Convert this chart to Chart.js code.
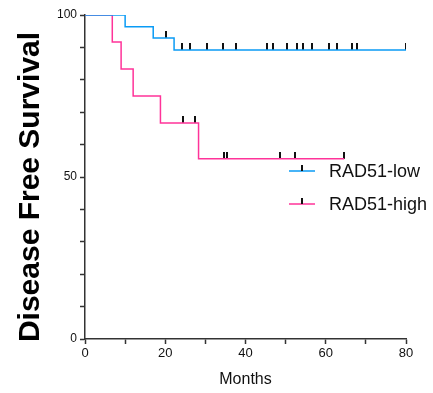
<!DOCTYPE html>
<html>
<head>
<meta charset="utf-8">
<script src="https://cdn.jsdelivr.net/npm/chart.js@4"></script>
<style>
  body { margin: 0; background: #fff; }
</style>
</head>
<body>
<canvas id="km" width="433" height="393"></canvas>
<script>
"use strict";

// survival steps (months, percent)
const lowTimes = [0, 10, 17, 22.2, 80];
const lowSurv = [100, 96.4, 92.9, 89.2, 89.2];
const lowCensor = [20.2, 24.1, 26.2, 30.3, 34.3, 37.7, 45.3, 46.8, 50.3, 52.8, 54.3, 56.6, 60.7, 62.9, 66.6, 67.8, 79.9];

const highTimes = [0, 6.8, 9, 12, 18.8, 28.3, 64.6];
const highSurv = [100, 91.7, 83.3, 75, 66.7, 55.6, 55.6];
const highCensor = [24.3, 27.3, 34.7, 35.3, 48.6, 52.3, 64.6];

const seriesNames = ["RAD51-low", "RAD51-high"];
const seriesColors = ["#0a9bf5", "#ff3399"];
const yTickLabels = [0, 50, 100];
const xTickLabels = [0, 20, 40, 60, 80];

const FONT = "Arial, 'Liberation Sans', sans-serif";

// survival level at time t for a step curve
function levelAt(times, surv, t) {
  let v = surv[0];
  for (let i = 0; i < times.length; i++) {
    if (times[i] <= t) v = surv[i];
  }
  return v;
}

// little black tick that sits on top of the line
const tick = document.createElement("canvas");
tick.width = 2;
tick.height = 14;
const tctx = tick.getContext("2d");
tctx.fillStyle = "#111";
tctx.fillRect(0, 0, 2, 7);

const curve = (times, surv) => times.map((t, i) => ({ x: t, y: surv[i] }));
const marks = (times, surv, cens) => cens.map((t) => ({ x: t, y: levelAt(times, surv, t) }));

// legend and y title drawn by hand
const extras = {
  id: "extras",
  afterDraw(chart) {
    const ctx = chart.ctx;
    const area = chart.chartArea;
    ctx.save();
    // y axis title
    ctx.translate(31, 187);
    ctx.rotate(-Math.PI / 2);
    ctx.font = "bold 30px " + FONT;
    ctx.fillStyle = "#000";
    ctx.textAlign = "center";
    ctx.textBaseline = "middle";
    ctx.fillText("Disease Free Survival", 0, 0);
    ctx.restore();

    ctx.save();
    const x0 = area.right - 117;
    seriesNames.forEach((name, i) => {
      const y = 171 + i * 33;
      ctx.strokeStyle = seriesColors[i];
      ctx.lineWidth = 1.5;
      ctx.beginPath();
      ctx.moveTo(x0, y);
      ctx.lineTo(x0 + 26, y);
      ctx.stroke();
      ctx.fillStyle = "#111";
      ctx.fillRect(x0 + 12, y - 6, 2, 6);
      ctx.font = "18px " + FONT;
      ctx.textBaseline = "middle";
      ctx.fillStyle = "#111";
      ctx.fillText(name, x0 + 40, y + 1);
    });
    ctx.restore();
  },
};

new Chart(document.getElementById("km"), {
  type: "line",
  data: {
    datasets: [
      {
        label: seriesNames[0],
        data: curve(lowTimes, lowSurv),
        borderColor: seriesColors[0],
        borderWidth: 1.5,
        stepped: true,
        pointRadius: 0,
        fill: false,
      },
      {
        label: seriesNames[1],
        data: curve(highTimes, highSurv),
        borderColor: seriesColors[1],
        borderWidth: 1.5,
        stepped: true,
        pointRadius: 0,
        fill: false,
      },
      {
        label: "low censored",
        data: marks(lowTimes, lowSurv, lowCensor),
        showLine: false,
        pointStyle: tick,
        pointRadius: 5,
      },
      {
        label: "high censored",
        data: marks(highTimes, highSurv, highCensor),
        showLine: false,
        pointStyle: tick,
        pointRadius: 5,
      },
    ],
  },
  options: {
    responsive: false,
    animation: false,
    layout: { padding: { top: 15, right: 27, left: 0, bottom: 0 } },
    plugins: {
      legend: { display: false },
      tooltip: { enabled: false },
    },
    scales: {
      x: {
        type: "linear",
        min: 0,
        max: 80,
        afterFit: (s) => { s.height = 54; },
        border: { color: "#333", width: 1.5 },
        grid: { drawOnChartArea: false, tickLength: 5, color: "#333", tickWidth: 1.5 },
        ticks: {
          stepSize: 10,
          padding: 2,
          color: "#111",
          font: { family: FONT, size: 13 },
          callback: (v) => (xTickLabels.includes(v) ? String(v) : ""),
        },
        title: {
          display: true,
          text: "Months",
          color: "#111",
          font: { family: FONT, size: 16 },
          padding: { top: 8 },
        },
      },
      y: {
        min: 0,
        max: 100,
        afterFit: (s) => { s.width = 85; },
        border: { color: "#333", width: 1.5 },
        grid: { drawOnChartArea: false, tickLength: 5, color: "#333", tickWidth: 1.5 },
        ticks: {
          stepSize: 5,
          padding: 3,
          color: "#111",
          font: { family: FONT, size: 12 },
          callback: (v) => (yTickLabels.includes(v) ? String(v) : ""),
        },
      },
    },
  },
  plugins: [extras],
});
</script>
</body>
</html>
